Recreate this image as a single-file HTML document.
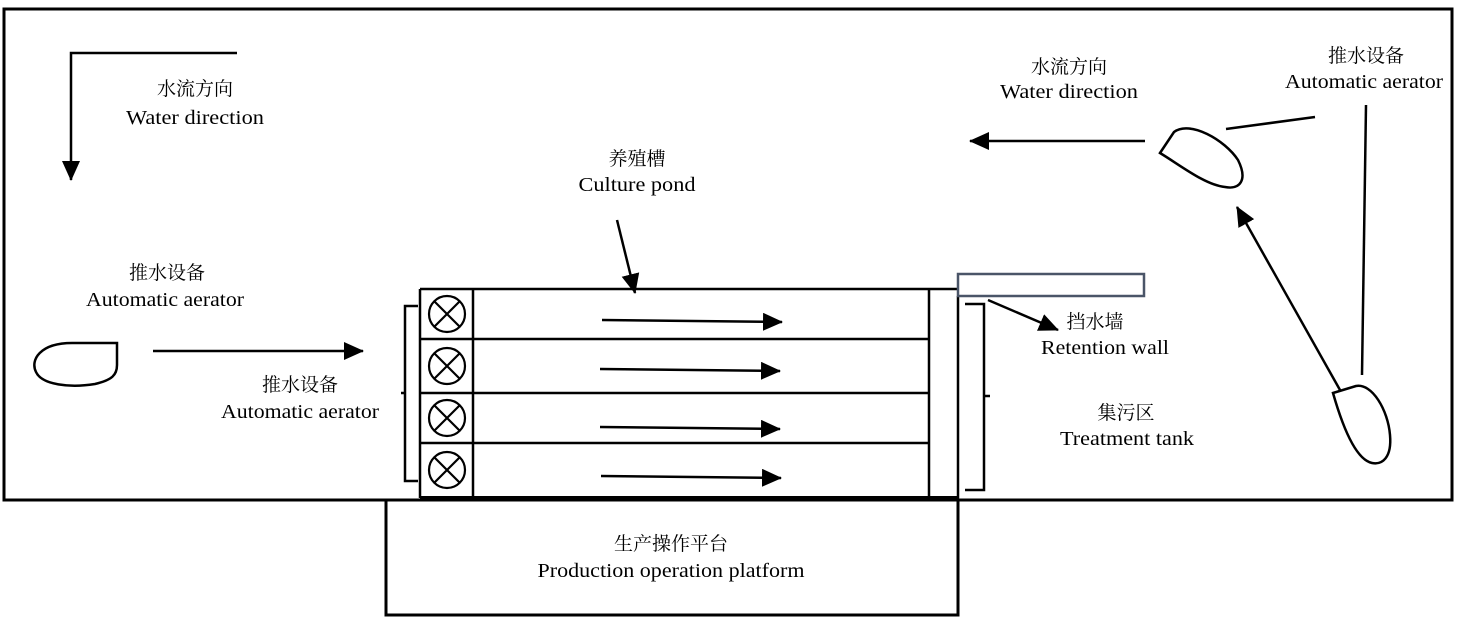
<!DOCTYPE html>
<html><head><meta charset="utf-8"><style>
html,body{margin:0;padding:0;background:#fff;}
svg{display:block;}
text{font-family:"Liberation Serif","Noto Serif CJK SC",serif;font-size:20px;fill:#000;}
.c{font-family:"Liberation Serif","Noto Serif CJK SC",serif;font-size:19px;}
</style></head><body>
<svg width="1459" height="624" viewBox="0 0 1459 624" xmlns="http://www.w3.org/2000/svg">
<defs>
<marker id="b" markerWidth="20" markerHeight="18" refX="19" refY="9" orient="auto" markerUnits="userSpaceOnUse" viewBox="0 0 20 18">
<path d="M0,0 L20,9 L0,18 Z" fill="#000"/></marker>
</defs>
<g fill="none" stroke="#000" stroke-width="3">
<rect x="4" y="9" width="1448" height="491"/>
<rect x="386" y="500" width="572" height="115"/>
</g>
<g fill="none" stroke="#000" stroke-width="2.5">
<line x1="420" y1="289" x2="958" y2="289"/>
<line x1="420" y1="289" x2="420" y2="498"/>
<line x1="473" y1="289" x2="473" y2="498"/>
<line x1="929" y1="289" x2="929" y2="498"/>
<line x1="958" y1="296" x2="958" y2="510"/>
<line x1="420" y1="339" x2="929" y2="339"/>
<line x1="420" y1="393" x2="929" y2="393"/>
<line x1="420" y1="443" x2="929" y2="443"/>
<line x1="420" y1="498" x2="958" y2="498" stroke-width="4"/>
<path d="M418,306 H405 V481 H418 M405,393 H401"/>
<path d="M965,304 H984 V490 H965 M984,396 H990"/>
<g stroke-width="2.2">
<ellipse cx="447" cy="314" rx="18" ry="18"/><path d="M434,301 L460,327 M460,301 L434,327"/>
<ellipse cx="447" cy="366" rx="18" ry="18"/><path d="M434,353 L460,379 M460,353 L434,379"/>
<ellipse cx="447" cy="418" rx="18" ry="18"/><path d="M434,405 L460,431 M460,405 L434,431"/>
<ellipse cx="447" cy="470" rx="18" ry="18"/><path d="M434,457 L460,483 M460,457 L434,483"/>
</g>
<line x1="602" y1="320" x2="782" y2="322" marker-end="url(#b)"/>
<line x1="600" y1="369" x2="780" y2="371" marker-end="url(#b)"/>
<line x1="600" y1="427" x2="780" y2="429" marker-end="url(#b)"/>
<line x1="601" y1="476" x2="781" y2="478" marker-end="url(#b)"/>
<polyline points="237,53 71,53 71,180" marker-end="url(#b)"/>
<line x1="153" y1="351" x2="363" y2="351" marker-end="url(#b)"/>
<line x1="617" y1="220" x2="635" y2="293" marker-end="url(#b)"/>
<line x1="988" y1="300" x2="1058" y2="330" marker-end="url(#b)"/>
<line x1="1145" y1="141" x2="970" y2="141" marker-end="url(#b)"/>
<line x1="1340" y1="390" x2="1237" y2="207" marker-end="url(#b)"/>
<line x1="1226" y1="129" x2="1315" y2="117"/>
<line x1="1366" y1="105" x2="1362" y2="375"/>
<path d="M117,343 H72 C40,343 30,360 36,372 C42,385 70,388 95,384 C112,380 117,375 117,365 Z"/>
<path d="M1160,153 L1174,132 C1190,120 1225,140 1238,160 C1248,180 1240,190 1225,187 C1205,185 1180,165 1160,153 Z"/>
<path d="M1333,393 L1356,386 C1372,383 1388,410 1390,435 C1392,458 1382,465 1372,463 C1358,460 1345,435 1333,393 Z"/>
</g>
<rect x="958" y="274" width="186" height="22" fill="none" stroke="#4a5568" stroke-width="2.5"/>
<g lengthAdjust="spacingAndGlyphs">
<text class="c" x="195" y="95" text-anchor="middle">水流方向</text>
<text x="195" y="124" text-anchor="middle" textLength="138" lengthAdjust="spacingAndGlyphs">Water direction</text>
<text class="c" x="167" y="279" text-anchor="middle">推水设备</text>
<text x="165" y="306" text-anchor="middle" textLength="158" lengthAdjust="spacingAndGlyphs">Automatic aerator</text>
<text class="c" x="300" y="391" text-anchor="middle">推水设备</text>
<text x="300" y="418" text-anchor="middle" textLength="158" lengthAdjust="spacingAndGlyphs">Automatic aerator</text>
<text class="c" x="637" y="165" text-anchor="middle">养殖槽</text>
<text x="637" y="191" text-anchor="middle" textLength="117" lengthAdjust="spacingAndGlyphs">Culture pond</text>
<text class="c" x="1069" y="73" text-anchor="middle">水流方向</text>
<text x="1069" y="98" text-anchor="middle" textLength="138" lengthAdjust="spacingAndGlyphs">Water direction</text>
<text class="c" x="1366" y="62" text-anchor="middle">推水设备</text>
<text x="1364" y="88" text-anchor="middle" textLength="158" lengthAdjust="spacingAndGlyphs">Automatic aerator</text>
<text class="c" x="1095" y="328" text-anchor="middle">挡水墙</text>
<text x="1105" y="354" text-anchor="middle" textLength="128" lengthAdjust="spacingAndGlyphs">Retention wall</text>
<text class="c" x="1126" y="419" text-anchor="middle">集污区</text>
<text x="1127" y="445" text-anchor="middle" textLength="134" lengthAdjust="spacingAndGlyphs">Treatment tank</text>
<text class="c" x="671" y="550" text-anchor="middle">生产操作平台</text>
<text x="671" y="577" text-anchor="middle" textLength="267" lengthAdjust="spacingAndGlyphs">Production operation platform</text>
</g>
</svg>
</body></html>
